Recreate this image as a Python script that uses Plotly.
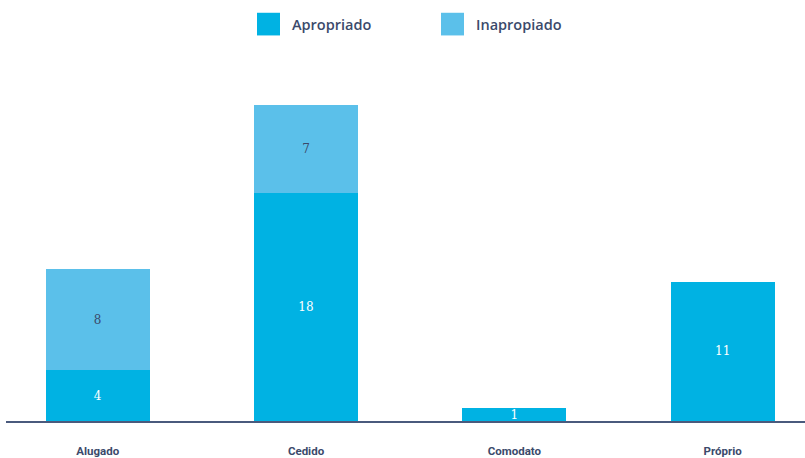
import plotly.graph_objects as go

# Housing situation per category, split by condition
categories = ["Alugado", "Cedido", "Comodato", "Próprio"]
apropriado = [4, 18, 1, 11]
inapropiado = [8, 7, None, None]

series_names = ["Apropriado", "Inapropiado"]
colors = ["#00B2E3", "#5BC0EA"]
text_colors = ["#FFFFFF", "#3B4A6B"]
dark = "#3B4A6B"

W, H = 805, 458
m_l, m_r, m_t, m_b = 6, 0, 67, 32
plot_w = W - m_l - m_r
plot_h = H - m_t - m_b

fig = go.Figure()
for name, vals, col, tcol in zip(series_names, [apropriado, inapropiado], colors, text_colors):
    fig.add_trace(go.Bar(
        name=name,
        x=categories,
        y=vals,
        marker=dict(color=col, line=dict(width=0)),
        width=0.5,
        text=vals,
        texttemplate="%{y}",
        textposition="inside",
        insidetextanchor="middle",
        textangle=0,
        constraintext="none",
        textfont=dict(family="DejaVu Serif", size=12, color=tcol),
        showlegend=False,
    ))

# Legend drawn as large swatches with labels above the plot area
def px_to_paper_x(px):
    return (px - m_l) / plot_w

def px_to_paper_y(py):
    return (H - m_b - py) / plot_h

shapes = []
annotations = []
for name, col, sx in zip(series_names, colors, [257, 441]):
    shapes.append(dict(
        type="rect", xref="paper", yref="paper",
        x0=px_to_paper_x(sx), x1=px_to_paper_x(sx + 23),
        y0=px_to_paper_y(35), y1=px_to_paper_y(12),
        fillcolor=col, line=dict(width=0),
    ))
    annotations.append(dict(
        xref="paper", yref="paper",
        x=px_to_paper_x(sx + 33), y=px_to_paper_y(24),
        xanchor="left", yanchor="middle",
        text=name, showarrow=False,
        font=dict(family="Open Sans", size=14.5, color=dark, weight=600),
    ))

fig.update_layout(
    width=W, height=H,
    margin=dict(l=m_l, r=m_r, t=m_t, b=m_b),
    barmode="stack",
    plot_bgcolor="white",
    paper_bgcolor="white",
    shapes=shapes,
    annotations=annotations,
    xaxis=dict(
        range=[-0.44, 3.395],
        showline=True, linecolor="#4A5A7D", linewidth=2,
        showgrid=False, zeroline=False,
        ticks="outside", ticklen=18, tickcolor="rgba(0,0,0,0)",
        tickfont=dict(family="Roboto", size=11.5, color=dark, weight="bold"),
    ),
    yaxis=dict(
        range=[0, 28],
        visible=False, showgrid=False, zeroline=False,
    ),
)

fig.write_html("out.html")
